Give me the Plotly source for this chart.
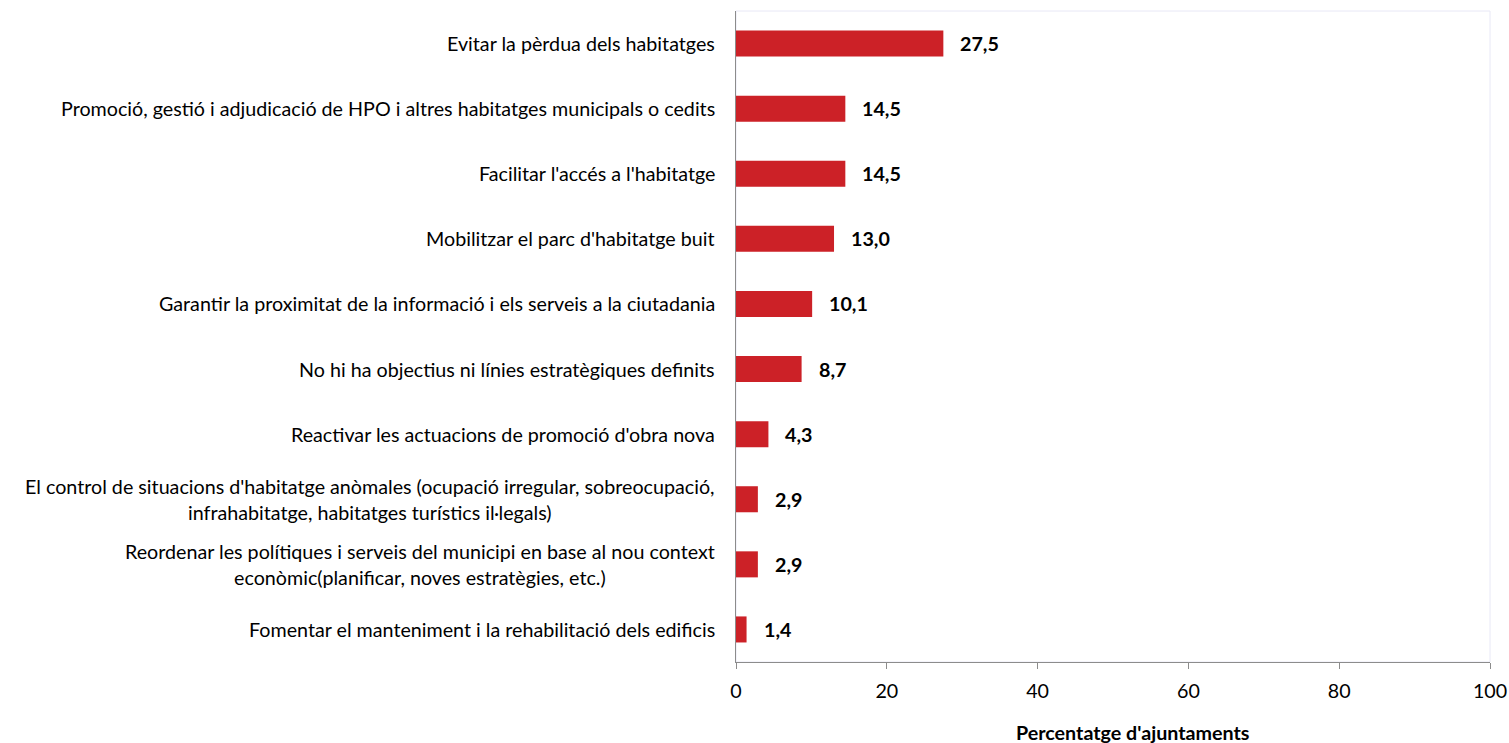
import plotly.graph_objects as go

# Data (top to bottom as in the chart)
categories = [
    "Evitar la pèrdua dels habitatges",
    "Promoció, gestió i adjudicació de HPO i altres habitatges municipals o cedits",
    "Facilitar l'accés a l'habitatge",
    "Mobilitzar el parc d'habitatge buit",
    "Garantir la proximitat de la informació i els serveis a la ciutadania",
    "No hi ha objectius ni línies estratègiques definits",
    "Reactivar les actuacions de promoció d'obra nova",
    "El control de situacions d'habitatge anòmales (ocupació irregular, sobreocupació,<br>infrahabitatge, habitatges turístics il·legals)",
    "Reordenar les polítiques i serveis del municipi en base al nou context<br>econòmic(planificar, noves estratègies, etc.)",
    "Fomentar el manteniment i la rehabilitació dels edificis",
]
values = [27.5, 14.5, 14.5, 13.0, 10.1, 8.7, 4.3, 2.9, 2.9, 1.4]
x_ticks = [0, 20, 40, 60, 80, 100]

FONT = "Lato, 'Open Sans', sans-serif"
FS = 19.7
BAR_COLOR = "#CC2127"

ids = list(range(len(categories)))

fig = go.Figure()
fig.add_trace(go.Bar(
    x=values, y=ids, orientation="h",
    marker=dict(color=BAR_COLOR, line=dict(width=0)),
    width=0.4, hoverinfo="x",
))

# Value labels
for i, v in zip(ids, values):
    fig.add_annotation(x=v, y=i, text="<b>" + f"{v:.1f}".replace(".", ",") + "</b>",
                       xanchor="left", xshift=15, showarrow=False,
                       font=dict(family=FONT, size=FS, color="black"))

# Category labels (centered lines, right-aligned block)
for i, c in zip(ids, categories):
    fig.add_annotation(x=0, y=i, xref="x", text=c, xanchor="right", xshift=-19,
                       align="center", showarrow=False,
                       font=dict(family=FONT, size=FS, color="black"))

fig.add_annotation(x=0.5265, y=-0.108, xref="paper", yref="paper",
                   text="<b>Percentatge d'ajuntaments</b>", showarrow=False,
                   yanchor="middle", font=dict(family=FONT, size=FS, color="black"))

fig.add_shape(type="rect", xref="paper", yref="paper", x0=0, x1=1, y0=0, y1=1,
              line=dict(color="#E8E8F6", width=1), layer="below")

fig.update_xaxes(range=[0, 100], tickvals=x_ticks, showgrid=False, zeroline=False,
                 showline=True, linecolor="#8C8C8C", linewidth=1,
                 ticks="outside", ticklen=6, tickcolor="#8C8C8C",
                 automargin=False, ticklabelstandoff=5,
                 tickfont=dict(family=FONT, size=FS, color="black"))
fig.update_yaxes(range=[len(categories) - 0.5, -0.5], showticklabels=False,
                 showgrid=False, zeroline=False, showline=True, automargin=False,
                 linecolor="#8C8C8C", linewidth=1, ticks="")

fig.update_layout(
    width=1509, height=743,
    margin=dict(l=736, r=19, t=11, b=81),
    plot_bgcolor="white", paper_bgcolor="white",
    showlegend=False, bargap=0.6,
    font=dict(family=FONT, size=FS, color="black"),
)

fig.write_html("out.html",
               config={"responsive": False, "displayModeBar": False},
               post_script="document.body.style.margin='0';"
                           "document.body.style.overflow='hidden';")
